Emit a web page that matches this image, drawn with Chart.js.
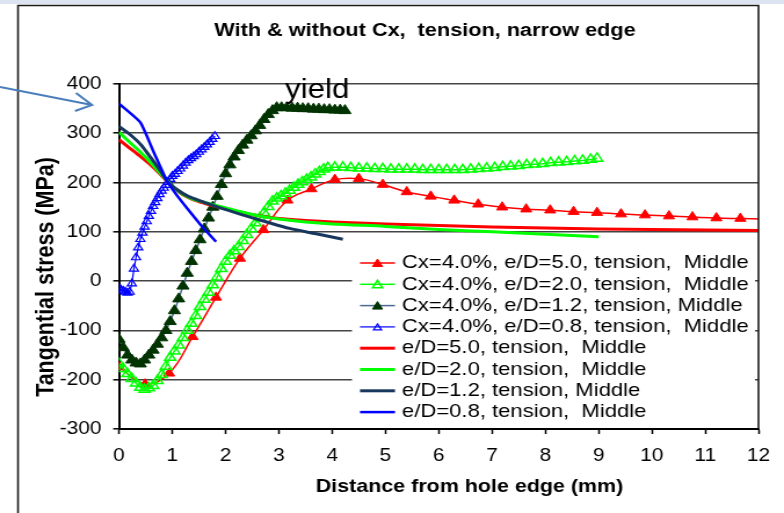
<!DOCTYPE html>
<html>
<head>
<meta charset="utf-8">
<script src="https://cdn.jsdelivr.net/npm/chart.js"></script>
<style>
  html, body { margin: 0; padding: 0; background: #fff; overflow: hidden; }
  #chart { display: block; }
</style>
</head>
<body>
<!-- the source picture is a slide that was stretched sideways, so the canvas is too -->
<canvas id="chart" width="676" height="513" style="width:784px;height:513px"></canvas>
<script>
// Axis ticks
const xTickValues = [0, 1, 2, 3, 4, 5, 6, 7, 8, 9, 10, 11, 12];
const yTickValues = [-300, -200, -100, 0, 100, 200, 300, 400];

// Legend labels (same order as the series below)
const labels = [
  'Cx=4.0%, e/D=5.0, tension,  Middle',
  'Cx=4.0%, e/D=2.0, tension,  Middle',
  'Cx=4.0%, e/D=1.2, tension, Middle',
  'Cx=4.0%, e/D=0.8, tension,  Middle',
  'e/D=5.0, tension,  Middle',
  'e/D=2.0, tension,  Middle',
  'e/D=1.2, tension, Middle',
  'e/D=0.8, tension,  Middle'
];

// Cx=4.0%, e/D=5.0 (distance mm / stress MPa)
const cx50X = [0, 0.49, 0.94, 1.38, 1.82, 2.27, 2.71, 3.16, 3.61, 4.05, 4.50, 4.95, 5.40, 5.85, 6.29, 6.74, 7.19, 7.64, 8.09, 8.53, 8.97, 9.42, 9.87, 10.32, 10.76, 11.21, 11.66, 12.1];
const cx50Y = [-174, -209, -187, -113, -33, 46, 104, 164, 187, 206, 208, 196, 181, 172, 164, 156, 150, 146, 144, 141, 139, 136, 134, 132, 130, 128, 127, 126];

// Cx=4.0%, e/D=2.0
const cx20X = [0, 0.08, 0.16, 0.24, 0.32, 0.40, 0.48, 0.56, 0.64, 0.72, 0.80, 0.88, 0.96, 1.04, 1.12, 1.20, 1.28, 1.36, 1.44, 1.52,
  1.60, 1.68, 1.76, 1.84, 1.92, 2.00, 2.08, 2.16, 2.24, 2.32, 2.40, 2.48, 2.56, 2.64, 2.72, 2.80, 2.88, 2.96, 3.04, 3.12,
  3.20, 3.28, 3.36, 3.44, 3.52, 3.60, 3.68, 3.76, 3.84, 3.92, 4.05, 4.20, 4.35, 4.50, 4.65, 4.80, 4.95, 5.10, 5.25, 5.40,
  5.55, 5.70, 5.85, 6.00, 6.15, 6.30, 6.45, 6.60, 6.75, 6.90, 7.05, 7.20, 7.35, 7.50, 7.65, 7.80, 7.95, 8.10, 8.25, 8.40,
  8.55, 8.70, 8.85, 8.97];
const cx20Y = [-167, -178, -188, -198, -207, -216, -220, -217, -212, -202, -190, -173, -155, -142, -130, -115, -100, -86, -70, -52,
  -37, -23, -8, 8, 25, 40, 52, 61, 70, 82, 94, 106, 118, 128, 139, 151, 162, 168, 173, 178,
  184, 190, 196, 201, 206, 211, 217, 222, 227, 230, 231, 231, 230, 229, 229, 228, 228, 227, 227, 227,
  227, 226, 226, 226, 226, 226, 226, 227, 228, 229, 230, 232, 233, 234, 236, 237, 238, 240, 241, 242,
  244, 245, 247, 249];

// Cx=4.0%, e/D=1.2
const cx12X = [0, 0.08, 0.16, 0.24, 0.32, 0.40, 0.48, 0.56, 0.64, 0.72, 0.80, 0.88, 0.96, 1.04, 1.12, 1.20, 1.28, 1.36, 1.44, 1.52,
  1.60, 1.68, 1.76, 1.84, 1.92, 2.00, 2.08, 2.16, 2.24, 2.32, 2.40, 2.48, 2.56, 2.64, 2.72, 2.80, 2.88, 2.96, 3.05, 3.15,
  3.25, 3.35, 3.45, 3.55, 3.65, 3.75, 3.85, 3.95, 4.05, 4.15, 4.24];
const cx12Y = [-118, -135, -150, -160, -166, -168, -160, -150, -140, -128, -115, -100, -82, -60, -36, -10, 16, 40, 62, 84,
  106, 128, 150, 172, 196, 218, 236, 252, 265, 276, 286, 295, 305, 316, 328, 338, 346, 352, 352, 352,
  351, 351, 350, 350, 349, 349, 348, 348, 347, 347, 346];

// Cx=4.0%, e/D=0.8
const cx08X = [0, 0.04, 0.08, 0.12, 0.16, 0.20, 0.24, 0.28, 0.32, 0.36, 0.40, 0.44, 0.48, 0.52, 0.56, 0.60, 0.64, 0.68, 0.72, 0.76,
  0.80, 0.84, 0.88, 0.92, 0.96, 1.00, 1.05, 1.10, 1.15, 1.20, 1.25, 1.30, 1.35, 1.40, 1.45, 1.50, 1.55, 1.60, 1.65, 1.70,
  1.75, 1.80];
const cx08Y = [-15, -18, -20, -22, -24, -22, -5, 25, 48, 68, 85, 98, 110, 121, 132, 142, 152, 160, 168, 176,
  183, 189, 195, 201, 207, 213, 217, 223, 228, 234, 240, 245, 249, 253, 257, 262, 267, 272, 277, 282,
  288, 294];

// without Cx
const ed50X = [0, 0.2, 0.4, 0.6, 0.8, 1.0, 1.2, 1.4, 1.6, 1.8, 2.2, 2.6, 3.0, 3.5, 4.0, 5.0, 6.0, 7.0, 8.0, 9.0, 10.0, 11.0, 12.0];
const ed50Y = [287, 270, 253, 235, 214, 192, 175, 165, 158, 152, 142, 133, 127, 123, 120, 116, 113, 110, 108, 106, 105, 104, 103];
const ed20X = [0, 0.2, 0.4, 0.6, 0.8, 1.0, 1.2, 1.4, 1.6, 1.8, 2.2, 2.6, 3.0, 3.5, 4.0, 5.0, 6.0, 7.0, 8.0, 9.0];
const ed20Y = [302, 282, 262, 240, 216, 193, 176, 166, 160, 154, 143, 133, 126, 120, 116, 111, 105, 100, 95, 90];
const ed12X = [0, 0.2, 0.4, 0.6, 0.8, 0.92, 1.1, 1.3, 1.6, 1.83, 2.3, 2.77, 3.2, 3.7, 4.2];
const ed12Y = [314, 298, 278, 250, 220, 201, 185, 172, 160, 151, 135, 120, 107, 96, 85];
const ed08X = [0, 0.4, 0.65, 0.9, 1.1, 1.3, 1.55, 1.82];
const ed08Y = [360, 322, 262, 203, 172, 145, 112, 80];

const FONT = '"Liberation Sans", Arial, sans-serif';
const SX = 784 / 676; // sideways stretch of the canvas

function pts(xs, ys) {
  return xs.map((x, i) => ({ x: x, y: ys[i] }));
}

const datasets = [
  { label: labels[0], data: pts(cx50X, cx50Y), borderColor: '#ff0000', borderWidth: 1.5, tension: 0.4,
    pointStyle: 'triangle', pointRadius: ctx => ctx.dataIndex === cx50X.length - 1 ? 0 : 5.5,
    pointBackgroundColor: '#ff0000', pointBorderColor: '#ff0000', pointBorderWidth: 1 },
  { label: labels[1], data: pts(cx20X, cx20Y), borderColor: '#00ff00', borderWidth: 1.5, tension: 0,
    pointStyle: 'triangle', pointRadius: 5.5,
    pointBackgroundColor: 'rgba(255,255,255,0)', pointBorderColor: '#00ff00', pointBorderWidth: 1.5 },
  { label: labels[2], data: pts(cx12X, cx12Y), borderColor: '#4a6a93', borderWidth: 1.5, tension: 0,
    pointStyle: 'triangle', pointRadius: 6,
    pointBackgroundColor: '#003300', pointBorderColor: '#003300', pointBorderWidth: 1 },
  { label: labels[3], data: pts(cx08X, cx08Y), borderColor: '#0000ff', borderWidth: 1.2, tension: 0,
    pointStyle: 'triangle', pointRadius: 4.5,
    pointBackgroundColor: 'rgba(255,255,255,0)', pointBorderColor: '#0000ff', pointBorderWidth: 1.2 },
  { label: labels[4], data: pts(ed50X, ed50Y), borderColor: '#ff0000', borderWidth: 3, tension: 0.3, pointRadius: 0 },
  { label: labels[5], data: pts(ed20X, ed20Y), borderColor: '#00ff00', borderWidth: 3, tension: 0.3, pointRadius: 0 },
  { label: labels[6], data: pts(ed12X, ed12Y), borderColor: '#17375e', borderWidth: 3, tension: 0.3, pointRadius: 0 },
  { label: labels[7], data: pts(ed08X, ed08Y), borderColor: '#0000ff', borderWidth: 2.5, tension: 0.15, pointRadius: 0 }
];
// later series are painted on top, as in the original
datasets.forEach((d, i) => { d.order = datasets.length - i; d.fill = false; });

function triangle(ctx, x, y, r) {
  ctx.beginPath();
  for (let k = 0; k < 3; k++) {
    const a = k * 2 * Math.PI / 3;
    const px = x + Math.sin(a) * r;
    const py = y - Math.cos(a) * r;
    if (k === 0) ctx.moveTo(px, py); else ctx.lineTo(px, py);
  }
  ctx.closePath();
}

// slide frame, arrow and background
const framePlugin = {
  id: 'frame',
  beforeDraw(chart) {
    const ctx = chart.ctx;
    ctx.save();
    ctx.fillStyle = '#ffffff';
    ctx.fillRect(0, 0, chart.width, chart.height);
    ctx.fillStyle = '#dbe4f0';
    ctx.fillRect(0, 0, chart.width, 4);
    ctx.restore();
  },
  afterDraw(chart) {
    const ctx = chart.ctx;
    const area = chart.chartArea;
    ctx.save();
    ctx.strokeStyle = '#1a1a1a';
    ctx.lineWidth = 1.6;
    ctx.beginPath();
    ctx.moveTo(18 / SX, chart.height);
    ctx.lineTo(18 / SX, 5.5);
    ctx.lineTo(area.right, 5.5);
    ctx.lineTo(area.right, area.bottom);
    ctx.stroke();

    // blue arrow coming from the left edge
    ctx.strokeStyle = '#4a7ebb';
    ctx.lineWidth = 2;
    ctx.beginPath();
    ctx.moveTo(0, 87);
    ctx.lineTo(92 / SX, 105);
    ctx.moveTo(76 / SX, 93);
    ctx.lineTo(92 / SX, 105);
    ctx.lineTo(75 / SX, 111);
    ctx.stroke();

    // titles
    ctx.fillStyle = '#000';
    ctx.textAlign = 'center';
    ctx.textBaseline = 'middle';
    ctx.font = 'bold 18.7px ' + FONT;
    ctx.fillText('With & without Cx,  tension, narrow edge', 425 / SX, 31);
    ctx.font = 'bold 18.5px ' + FONT;
    ctx.fillText('Distance from hole edge (mm)', 469.5 / SX, 487);
    ctx.save();
    ctx.translate(47 / SX, 277);
    ctx.rotate(-Math.PI / 2);
    ctx.font = 'bold 21.5px ' + FONT;
    ctx.fillText('Tangential stress (MPa)', 0, 0);
    ctx.restore();

    ctx.textAlign = 'left';
    ctx.textBaseline = 'alphabetic';
    ctx.font = '27px ' + FONT;
    ctx.fillText('yield', 285 / SX, 98);
    ctx.restore();
  }
};

// legend inside the plot, lower right
const legendPlugin = {
  id: 'innerLegend',
  afterDatasetsDraw(chart) {
    const ctx = chart.ctx;
    ctx.save();
    ctx.fillStyle = '#ffffff';
    ctx.fillRect(352 / SX, 247, (755 - 352) / SX, 180);
    ctx.font = '19px ' + FONT;
    ctx.textBaseline = 'middle';
    ctx.textAlign = 'left';
    chart.data.datasets.forEach((ds, i) => {
      const y = 263 + i * 21.3;
      ctx.strokeStyle = ds.borderColor;
      ctx.lineWidth = ds.borderWidth;
      ctx.beginPath();
      ctx.moveTo(360 / SX, y);
      ctx.lineTo(395 / SX, y);
      ctx.stroke();
      if (ds.pointStyle === 'triangle') {
        triangle(ctx, 377.5 / SX, y + 1, i === 3 ? 4 : 5);
        ctx.fillStyle = ds.pointBackgroundColor;
        ctx.fill();
        ctx.strokeStyle = ds.pointBorderColor;
        ctx.lineWidth = ds.pointBorderWidth;
        ctx.stroke();
      }
      ctx.fillStyle = '#000';
      ctx.fillText(ds.label, 402 / SX, y);
    });
    ctx.restore();
  }
};

new Chart(document.getElementById('chart'), {
  type: 'line',
  data: { datasets: datasets },
  plugins: [framePlugin, legendPlugin],
  options: {
    responsive: false,
    animation: false,
    events: [],
    layout: { padding: { left: 0, right: 676 - 758.5 / SX, top: 84, bottom: 0 } },
    plugins: {
      legend: { display: false },
      title: { display: false },
      tooltip: { enabled: false }
    },
    scales: {
      x: {
        type: 'linear',
        min: 0,
        max: 12,
        afterBuildTicks: scale => { scale.ticks = xTickValues.map(v => ({ value: v })); },
        afterFit: scale => { scale.height = 84; },
        grid: { drawOnChartArea: false, drawTicks: true, tickLength: 5, tickColor: '#000', tickWidth: 1.5 },
        border: { color: '#000', width: 2 },
        ticks: { color: '#000', padding: 11, font: { family: FONT, size: 18 } }
      },
      y: {
        type: 'linear',
        min: -300,
        max: 400,
        afterBuildTicks: scale => { scale.ticks = yTickValues.map(v => ({ value: v })); },
        afterFit: scale => { scale.width = 119 / SX; },
        grid: { color: '#444', lineWidth: 1.6, tickLength: 5, tickColor: '#000', tickWidth: 1.5 },
        border: { color: '#000', width: 2 },
        ticks: { color: '#000', padding: 10, font: { family: FONT, size: 18 } }
      }
    }
  }
});
</script>
</body>
</html>
